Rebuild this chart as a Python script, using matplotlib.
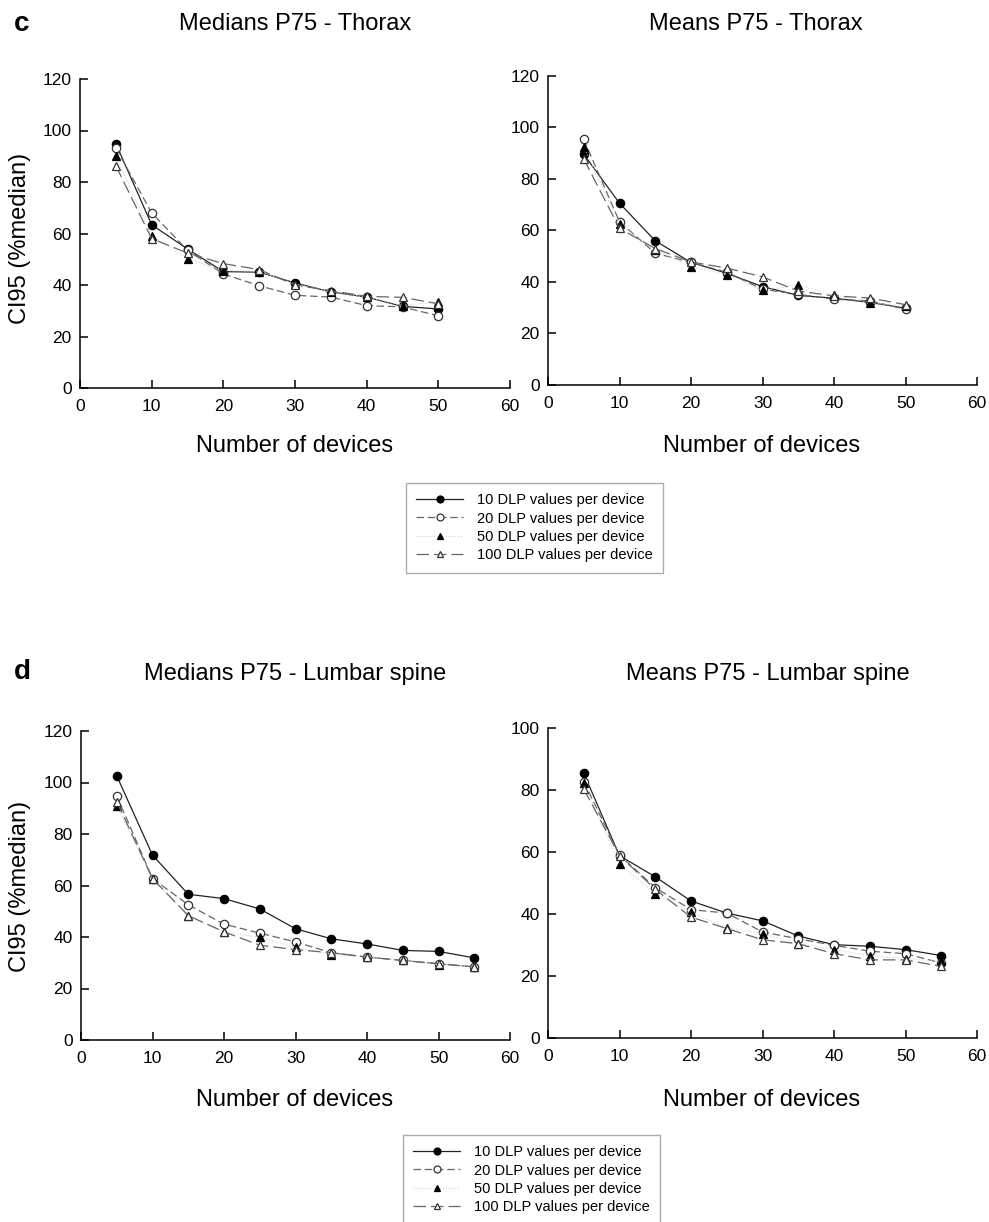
import matplotlib
matplotlib.use("Agg")
import matplotlib.pyplot as plt
from matplotlib.lines import Line2D

plt.rcParams["font.family"] = ["Liberation Sans", "DejaVu Sans"]

# ── data ──────────────────────────────────────────────────────────────────────
N_THORAX = [5, 10, 15, 20, 25, 30, 35, 40, 45, 50]
N_LUMBAR = [5, 10, 15, 20, 25, 30, 35, 40, 45, 50, 55]

LABELS = ["10 DLP values per device", "20 DLP values per device",
          "50 DLP values per device", "100 DLP values per device"]

# c: Medians P75 - Thorax
MED_THX_10 = [94.9, 63.4, 54.0, 45.2, 45.0, 40.8, 37.3, 35.3, 31.7, 30.7]
MED_THX_20 = [93.2, 68.0, 53.5, 44.3, 39.7, 36.0, 35.3, 32.0, 31.5, 28.0]
MED_THX_50 = [90.0, 59.2, 50.2, 45.6, 45.2, 40.5, 37.3, 35.3, 32.0, 33.5]
MED_THX_100 = [86.3, 58.0, 52.4, 48.3, 46.0, 40.0, 37.8, 35.6, 35.2, 32.7]

# c: Means P75 - Thorax
MEAN_THX_10 = [89.6, 70.6, 56.0, 47.6, 43.4, 38.2, 34.8, 33.7, 32.1, 29.8]
MEAN_THX_20 = [95.4, 63.4, 51.2, 47.6, 43.8, 37.2, 35.2, 33.3, 32.7, 29.4]
MEAN_THX_50 = [92.6, 62.5, 52.5, 46.0, 42.8, 36.8, 38.8, 35.0, 32.0, 30.5]
MEAN_THX_100 = [87.8, 60.8, 53.0, 47.8, 45.4, 42.0, 36.5, 34.6, 33.8, 31.2]

# d: Medians P75 - Lumbar spine
MED_LUM_10 = [102.6, 71.8, 56.6, 54.9, 50.9, 43.2, 39.3, 37.3, 34.8, 34.4, 31.9]
MED_LUM_20 = [94.8, 62.7, 52.5, 45.0, 41.5, 38.1, 33.9, 32.2, 30.9, 29.6, 28.4]
MED_LUM_50 = [91.0, 62.7, 48.0, 42.0, 39.9, 36.0, 33.2, 32.2, 30.9, 29.3, 28.4]
MED_LUM_100 = [92.6, 62.7, 48.3, 42.0, 36.8, 35.1, 33.9, 32.2, 30.9, 29.6, 28.4]

# d: Means P75 - Lumbar spine
MEAN_LUM_10 = [85.4, 58.8, 52.0, 44.2, 40.3, 37.8, 32.9, 30.1, 29.6, 28.5, 26.6]
MEAN_LUM_20 = [82.7, 59.0, 48.5, 41.4, 40.3, 34.2, 32.0, 29.9, 28.0, 27.2, 24.2]
MEAN_LUM_50 = [82.2, 56.1, 46.6, 40.5, 35.5, 33.7, 30.4, 28.5, 26.6, 25.6, 24.7]
MEAN_LUM_100 = [80.3, 58.8, 48.0, 39.0, 35.3, 31.7, 30.4, 27.2, 25.2, 25.2, 23.1]

W, H = 989, 1222

STYLES = [
    dict(color="#222222", lw=0.9, ls="-", marker="o", mfc="black", mec="black"),
    dict(color="#666666", lw=0.9, ls=(0, (6, 3)), marker="o", mfc="white", mec="#333333"),
    dict(color="#d0d0d0", lw=0.8, ls=":", marker="^", mfc="black", mec="black"),
    dict(color="#666666", lw=0.9, ls=(0, (10, 4)), marker="^", mfc="white", mec="#333333"),
]


def px_axes(fig, left, top, right, bottom):
    return fig.add_axes([left / W, 1 - bottom / H, (right - left) / W, (bottom - top) / H])


def draw_panel(ax, x, series, ymax):
    for ys, st in zip(series, STYLES):
        ax.plot(x, ys, markersize=6, markeredgewidth=0.9, clip_on=False, **st)
    ax.set_xlim(0, 60)
    ax.set_ylim(0, ymax)
    ax.set_xticks(range(0, 61, 10))
    ax.set_yticks(range(0, ymax + 1, 20))
    for s in ("top", "right"):
        ax.spines[s].set_visible(False)
    for s in ("left", "bottom"):
        ax.spines[s].set_linewidth(1.1)
    ax.tick_params(direction="in", length=6, width=1.1, labelsize=12.5)
    ax.tick_params(axis="x", pad=8)
    ax.tick_params(axis="y", pad=6)


def add_legend(fig, left, top):
    handles = [Line2D([], [], markersize=5, markeredgewidth=0.9, **st) for st in STYLES]
    leg = fig.legend(handles, LABELS, loc="upper left",
                     bbox_to_anchor=(left / W, 1 - top / H), borderaxespad=0,
                     fontsize=10.5, frameon=True, fancybox=False,
                     edgecolor="#999999", handlelength=3.2, handletextpad=1.0,
                     labelspacing=0.3, borderpad=0.7)
    leg.get_frame().set_linewidth(1.0)


fig = plt.figure(figsize=(W / 100, H / 100), dpi=100)

ax1 = px_axes(fig, 80, 79, 510, 388)
draw_panel(ax1, N_THORAX, [MED_THX_10, MED_THX_20, MED_THX_50, MED_THX_100], 120)
ax2 = px_axes(fig, 548, 76, 977, 385)
draw_panel(ax2, N_THORAX, [MEAN_THX_10, MEAN_THX_20, MEAN_THX_50, MEAN_THX_100], 120)
ax3 = px_axes(fig, 81, 731, 510, 1040)
draw_panel(ax3, N_LUMBAR, [MED_LUM_10, MED_LUM_20, MED_LUM_50, MED_LUM_100], 120)
ax4 = px_axes(fig, 548, 728, 977, 1038)
draw_panel(ax4, N_LUMBAR, [MEAN_LUM_10, MEAN_LUM_20, MEAN_LUM_50, MEAN_LUM_100], 100)

# titles, panel letters, axis labels
def ftext(x, y, s, **kw):
    fig.text(x / W, 1 - y / H, s, ha="center", va="center", **kw)

ftext(22, 24, "c", fontsize=20, fontweight="bold")
ftext(22, 672, "d", fontsize=20, fontweight="bold")
ftext(295, 24, "Medians P75 - Thorax", fontsize=17)
ftext(756, 24, "Means P75 - Thorax", fontsize=17)
ftext(295, 674, "Medians P75 - Lumbar spine", fontsize=17)
ftext(768, 674, "Means P75 - Lumbar spine", fontsize=17)

ftext(295, 446, "Number of devices", fontsize=17)
ftext(762, 446, "Number of devices", fontsize=17)
ftext(295, 1100, "Number of devices", fontsize=17)
ftext(762, 1100, "Number of devices", fontsize=17)
ftext(20, 238, "CI95 (%median)", fontsize=17, rotation=90)
ftext(20, 886, "CI95 (%median)", fontsize=17, rotation=90)

add_legend(fig, 406, 483)
add_legend(fig, 403, 1135)

fig.savefig("out.png", dpi=100)
